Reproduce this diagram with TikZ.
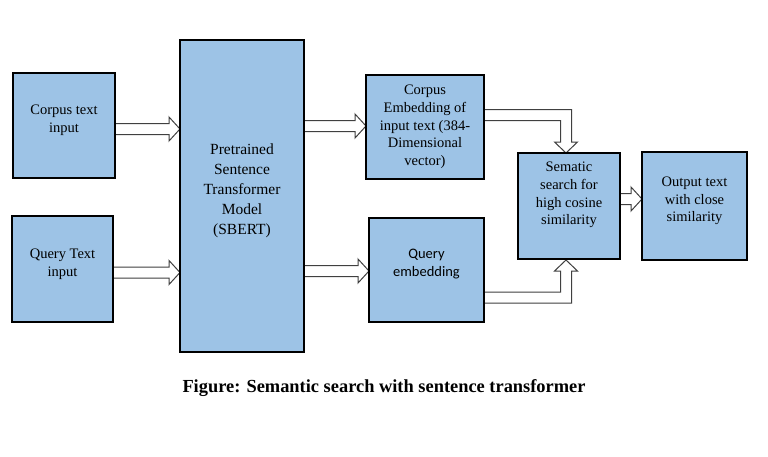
\documentclass[tikz,border=0pt]{standalone}
\usepackage{fontspec}
\setmainfont{Liberation Serif}
\newfontfamily\serf{Liberation Serif}
\newfontfamily\calfont{Carlito}
\usetikzlibrary{calc}
\definecolor{boxblue}{RGB}{157,195,230}
\definecolor{arrowgray}{RGB}{64,64,64}
\pgfdeclarelayer{bg}
\pgfsetlayers{bg,main}
\tikzset{
  box/.style={draw=black, line width=2pt, fill=boxblue, rectangle, outer sep=0pt, inner sep=0pt},
  txt/.style={align=center, font=\serf\fontsize{14.5}{17.7}\selectfont},
  bigtxt/.style={align=center, font=\serf\fontsize{15.5}{20}\selectfont},
  barrow/.style={draw=arrowgray, line width=1pt, fill=white, line join=miter},
}
\newcommand{\harrow}[3]{%
  \draw[barrow] ($(#1.east |- #3)+(0,-5.5)$) -- ($(#2.west |- #3)+(-11,-5.5)$) -- ($(#2.west |- #3)+(-11,-12)$) -- (#2.west |- #3) -- ($(#2.west |- #3)+(-11,12)$) -- ($(#2.west |- #3)+(-11,5.5)$) -- ($(#1.east |- #3)+(0,5.5)$) -- cycle;}
\begin{document}
\begin{tikzpicture}[x=1pt,y=-1pt]
\useasboundingbox (0,0) rectangle (768,456);

\node[box, minimum width=102pt, minimum height=105pt,
  label={[txt,yshift=5.5pt]center:Corpus text\\input}] (ct) at (64,125.5) {};
\node[box, minimum width=101pt, minimum height=106pt,
  label={[txt,yshift=4.5pt]center:Query Text\\input}] (qt) at (62.5,269) {};
\node[box, minimum width=124pt, minimum height=312pt,
  label={[bigtxt,yshift=5pt]center:Pretrained\\Sentence\\Transformer\\Model\\(SBERT)}] (sb) at (242,196) {};
\node[box, minimum width=118pt, minimum height=104pt,
  label={[txt]center:Corpus\\Embedding of\\input text (384-\\Dimensional\\vector)}] (ce) at (425,127) {};
\node[box, minimum width=115pt, minimum height=104pt,
  label={[align=center,font=\calfont\fontsize{14.5}{17.7}\selectfont,yshift=6pt]center:Query\\embedding}] (qe) at (426.5,270) {};
\node[box, minimum width=102pt, minimum height=106pt,
  label={[txt,yshift=11pt]center:Sematic\\search for\\high cosine\\similarity}] (se) at (569,206) {};
\node[box, minimum width=105pt, minimum height=108pt,
  label={[txt,yshift=5pt]center:Output text\\with close\\similarity}] (ou) at (694.5,206) {};

\node[font=\serf\bfseries\fontsize{18.4}{21}\selectfont] (cap) at (384,388) {Figure: Semantic search with sentence transformer};

\coordinate (y1) at (0,129);
\coordinate (y2) at (0,272.5);
\coordinate (y3) at (0,126);
\coordinate (y4) at (0,271);
\coordinate (y5) at (0,199);
\coordinate (k1) at (566,115);
\coordinate (k2) at (566,297.5);

\begin{pgfonlayer}{bg}
\fill[white] (0,0) rectangle (768,456);
\harrow{ct}{sb}{y1}
\harrow{qt}{sb}{y2}
\harrow{sb}{ce}{y3}
\harrow{sb}{qe}{y4}
\harrow{se}{ou}{y5}
\draw[barrow] ($(ce.east |- k1)+(0,-5.5)$) -- ($(k1)+(5.5,-5.5)$) -- ($(k1 |- se.north)+(5.5,-11)$) -- ($(k1 |- se.north)+(11.5,-11)$) -- (k1 |- se.north) -- ($(k1 |- se.north)+(-11.5,-11)$) -- ($(k1 |- se.north)+(-5.5,-11)$) -- ($(k1)+(-5.5,5.5)$) -- ($(ce.east |- k1)+(0,5.5)$) -- cycle;
\draw[barrow] ($(qe.east |- k2)+(0,5.5)$) -- ($(k2)+(5.5,5.5)$) -- ($(k2 |- se.south)+(5.5,12)$) -- ($(k2 |- se.south)+(11.5,12)$) -- ($(k2 |- se.south)+(0,1)$) -- ($(k2 |- se.south)+(-11.5,12)$) -- ($(k2 |- se.south)+(-5.5,12)$) -- ($(k2)+(-5.5,-5.5)$) -- ($(qe.east |- k2)+(0,-5.5)$) -- cycle;
\end{pgfonlayer}
\end{tikzpicture}
\end{document}
